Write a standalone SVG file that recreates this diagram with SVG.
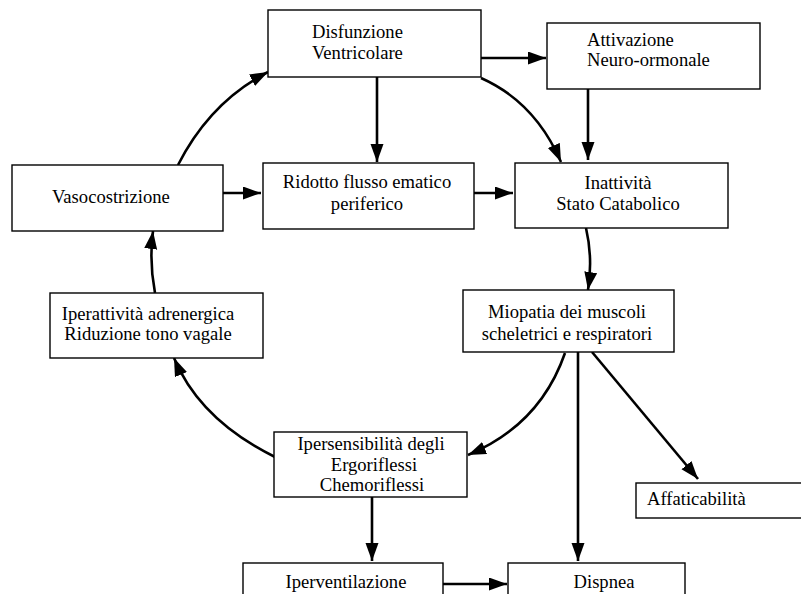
<svg xmlns="http://www.w3.org/2000/svg" width="801" height="594" viewBox="0 0 801 594">
<style>
.box{fill:#fff;stroke:#000;stroke-width:1.4}
.t{font-family:"Liberation Serif","Times New Roman",serif;font-size:18.6px;fill:#000}
.m{text-anchor:middle}
.c{fill:none;stroke:#000;stroke-width:2.6;marker-end:url(#ah)}
</style>
<defs>
<marker id="ah" markerUnits="userSpaceOnUse" markerWidth="20" markerHeight="14" refX="18" refY="6.5" orient="auto">
<path d="M0,0 L18,6.5 L0,13 z" fill="#000"/>
</marker>
</defs>
<rect width="801" height="594" fill="#fff"/>
<g id="connectors">
<path class="c" d="M481,58 L546,58"/>
<path class="c" d="M377,77 L377,162"/>
<path class="c" d="M588,89 L588,160"/>
<path class="c" d="M223,193 L261,193"/>
<path class="c" d="M474,193 L513,193"/>
<path class="c" d="M578,352 L578,561"/>
<path class="c" d="M592,352 L698,479"/>
<path class="c" d="M372,497 L372,561"/>
<path class="c" d="M443,584 L507,584"/>
<path class="c" d="M178,165 Q210,102 268,72"/>
<path class="c" d="M481,78 Q535,102 561,162"/>
<path class="c" d="M586,228 Q593,258 588,290"/>
<path class="c" d="M565,353 Q540,425 468,455"/>
<path class="c" d="M275,457 Q200,420 174,358"/>
<path class="c" d="M155,293 Q149,262 153,231"/>
</g>
<g id="disfunzione">
<rect class="box" x="268" y="10" width="213" height="67"/>
<text class="t" x="312" y="38">Disfunzione</text>
<text class="t" x="312" y="59">Ventricolare</text>
</g>
<g id="attivazione">
<rect class="box" x="547" y="23" width="213" height="66"/>
<text class="t" x="587" y="46">Attivazione</text>
<text class="t" x="587" y="66">Neuro-ormonale</text>
</g>
<g id="vasocostrizione">
<rect class="box" x="12" y="165" width="211" height="66"/>
<text class="t" x="52" y="203">Vasocostrizione</text>
</g>
<g id="ridotto">
<rect class="box" x="263" y="163" width="211" height="66"/>
<text class="t m" x="367" y="188">Ridotto flusso ematico</text>
<text class="t m" x="367" y="210">periferico</text>
</g>
<g id="inattivita">
<rect class="box" x="515" y="163" width="213" height="65"/>
<text class="t m" x="618" y="189">Inattività</text>
<text class="t m" x="618" y="210">Stato Catabolico</text>
</g>
<g id="miopatia">
<rect class="box" x="463" y="290" width="211" height="62"/>
<text class="t m" x="567" y="318">Miopatia dei muscoli</text>
<text class="t m" x="567" y="340">scheletrici e respiratori</text>
</g>
<g id="iperattivita">
<rect class="box" x="50" y="293" width="213" height="65"/>
<text class="t m" x="148" y="320">Iperattività adrenergica</text>
<text class="t m" x="148" y="340">Riduzione tono vagale</text>
</g>
<g id="ipersensibilita">
<rect class="box" x="274" y="432" width="193" height="65"/>
<text class="t m" x="371" y="450">Ipersensibilità degli</text>
<text class="t m" x="374" y="471">Ergoriflessi</text>
<text class="t m" x="372" y="491">Chemoriflessi</text>
</g>
<g id="affaticabilita">
<rect class="box" x="636" y="483" width="200" height="35"/>
<text class="t" x="647" y="505">Affaticabilità</text>
</g>
<g id="iperventilazione">
<rect class="box" x="243" y="563" width="200" height="50"/>
<text class="t m" x="346" y="588">Iperventilazione</text>
</g>
<g id="dispnea">
<rect class="box" x="508" y="563" width="177" height="50"/>
<text class="t m" x="604" y="588">Dispnea</text>
</g>
</svg>
